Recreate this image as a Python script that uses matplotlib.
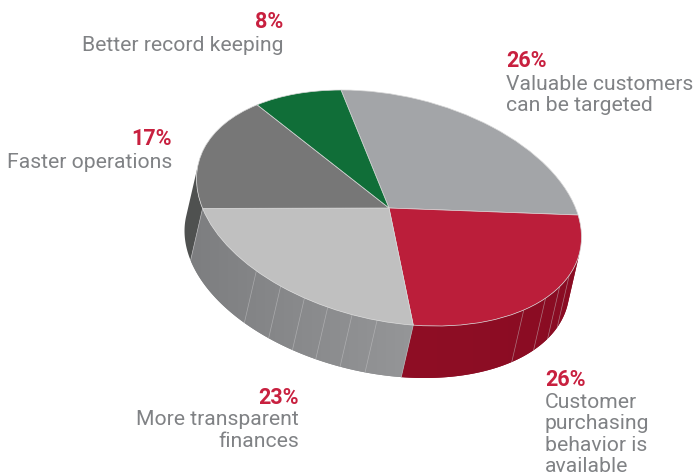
import numpy as np
import matplotlib
matplotlib.use("Agg")
import matplotlib.pyplot as plt
from matplotlib.patches import Polygon
from matplotlib.transforms import Affine2D

# ---- data ----
categories = ["Valuable customers\ncan be targeted",
              "Customer\npurchasing\nbehavior is\navailable",
              "More transparent\nfinances",
              "Faster operations",
              "Better record keeping"]
values = [26, 26, 23, 17, 8]

# ---- styles ----
top_colors = ["#A3A5A8", "#BB1E3A", "#C0C0C0", "#777777", "#106E38"]
wall_start = ["#A3A5A8", "#8A0C23", "#959698", "#4F5150", "#106E38"]
wall_end = ["#A3A5A8", "#8F0E25", "#7D7E80", "#4F5150", "#106E38"]
seams = [125, 132, 140, 150, 198, 205.5, 213, 220.5, 228.7, 238]
label_pos = [(506, 67, "left"), (545, 386.5, "left"), (299, 404, "right"),
             (172, 145, "right"), (283, 28.5, "right")]
first_gap = [1.2, 0, 0, 1.5, 0.8]
GREY = "#808285"
RED = "#C8203F"
FONT = "Roboto"
DEPTH = (-12, 52)
LINE = 21.4

fig = plt.figure(figsize=(6.93, 4.75), dpi=100)
ax = fig.add_axes([0, 0, 1, 1])

# the disc: a unit pie under an affine map (pixel axes, y down)
disc = Affine2D.from_values(186.4, -0.4, -48, -118, 389, 208)
shift = Affine2D().translate(*DEPTH)


def rim(theta_deg):
    t = np.radians(theta_deg)
    return disc.transform(np.column_stack([np.sin(t), np.cos(t)]))


edges = np.concatenate([[0], np.cumsum(values)]) / np.sum(values) * 360

# the part of the rim that faces the viewer lies between the two tangents
# of the rim parallel to the extrusion direction
m = disc.get_matrix()
vx, vy, ux, uy = m[0, 0], m[1, 0], m[0, 1], m[1, 1]
cv = vx * DEPTH[1] - vy * DEPTH[0]
cu = ux * DEPTH[1] - uy * DEPTH[0]
front_a = np.degrees(np.arctan2(cv, cu)) % 180
front_b = front_a + 180

# side walls: one strip per slice, with a left-to-right shade
for i in range(len(values)):
    a, b = max(edges[i], front_a), min(edges[i + 1], front_b)
    if b <= a:
        continue
    th = np.linspace(a, b, 120)
    p = rim(th)
    poly = np.vstack([p, shift.transform(p)[::-1]])
    c0 = np.array(matplotlib.colors.to_rgb(wall_start[i]))
    c1 = np.array(matplotlib.colors.to_rgb(wall_end[i]))
    patch = Polygon(poly, closed=True, facecolor=tuple((c0 + c1) / 2),
                    edgecolor="none", zorder=1)
    ax.add_patch(patch)
    if wall_start[i] != wall_end[i]:
        # start of the slice is its right side, end is its left side
        f = np.linspace(1, 0, 256)[None, :, None]
        grad = c0 + (c1 - c0) * f
        im = ax.imshow(grad, extent=(poly[:, 0].min(), poly[:, 0].max(),
                                     poly[:, 1].max(), poly[:, 1].min()),
                       aspect="auto", zorder=1.5, interpolation="bilinear")
        im.set_clip_path(patch)

# seams on the wall
for s in seams:
    p = rim(np.array([s]))
    q = shift.transform(p)
    ax.plot([p[0, 0], q[0, 0]], [p[0, 1], q[0, 1]], color="#c9c9cb", lw=0.5, alpha=0.55, zorder=2)
# slice dividers on the wall
for e in edges[1:4]:
    if front_a < e < front_b:
        p = rim(np.array([e]))
        q = shift.transform(p)
        ax.plot([p[0, 0], q[0, 0]], [p[0, 1], q[0, 1]], color="#b5b5b7", lw=0.5, zorder=2)

# top face
wedges, _ = ax.pie(values, colors=top_colors, startangle=90, counterclock=False,
                   wedgeprops=dict(linewidth=0.5, edgecolor="#d8d8d8"))
for w in wedges:
    w.set_transform(disc + ax.transData)
    w.set_zorder(3)

ax.set_aspect("auto")
ax.set_xlim(0, 693)
ax.set_ylim(475, 0)
ax.axis("off")

# labels
for val, cat, (x, y, ha), gap in zip(values, categories, label_pos, first_gap):
    ax.text(x, y, f"{val}%", color=RED, fontsize=15.5, fontweight="bold", family=FONT,
            ha=ha, va="baseline", zorder=5)
    for j, line in enumerate(cat.split("\n")):
        ax.text(x, y + gap + (j + 1) * LINE, line, color=GREY, fontsize=15.2, family=FONT,
                ha=ha, va="baseline", zorder=5, clip_on=False)

fig.savefig("out.png", dpi=100, facecolor="white")
